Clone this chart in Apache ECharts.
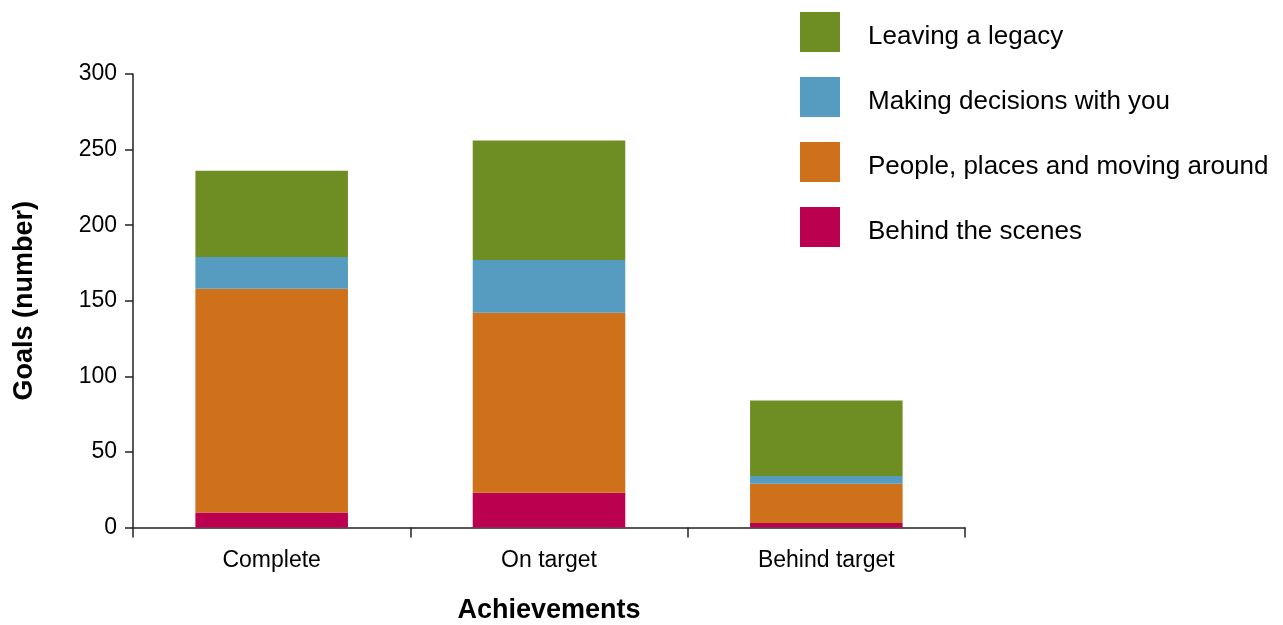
<!DOCTYPE html>
<html>
<head>
<meta charset="utf-8">
<script src="https://cdn.jsdelivr.net/npm/echarts@6/dist/echarts.min.js"></script>
<style>
html,body{margin:0;padding:0;background:#fff;overflow:hidden;}
#chart{width:1283px;height:625px;}
</style>
</head>
<body>
<div id="chart"></div>
<script>
const categories = ['Complete', 'On target', 'Behind target'];
const behindScenes = [10, 23, 3];
const peoplePlaces = [148, 119, 26];
const makingDecisions = [21, 35, 5];
const leavingLegacy = [57, 79, 50];
const yTicks = [0, 50, 100, 150, 200, 250, 300];

const FONT = '"Liberation Sans", Arial, sans-serif';
const chart = echarts.init(document.getElementById('chart'));

const mk = (name, data, color) => ({
  name, type: 'bar', stack: 'total', data, barWidth: '55%',
  itemStyle: { color }, emphasis: { disabled: true }
});

chart.setOption({
  animation: false,
  textStyle: { fontFamily: FONT },
  grid: { left: 133, width: 832, top: 74, height: 453.5, containLabel: false, outerBoundsMode: 'none' },
  legend: {
    orient: 'vertical', left: 800, top: 12, padding: 0,
    itemWidth: 40, itemHeight: 40, itemGap: 25,
    icon: 'rect',
    formatter: n => '{t|' + n + '}',
    textStyle: {
      fontFamily: FONT, fontSize: 26, color: '#000', padding: [0, 0, 0, 23],
      rich: { t: { fontFamily: FONT, fontSize: 26, color: '#000', padding: [10, 0, 0, 0] } }
    },
    data: ['Leaving a legacy', 'Making decisions with you', 'People, places and moving around', 'Behind the scenes']
  },
  xAxis: {
    type: 'category', data: categories,
    name: 'Achievements', nameLocation: 'middle', nameGap: 70,
    nameTextStyle: { fontFamily: FONT, fontSize: 27, fontWeight: 'bold', color: '#000' },
    axisLine: { lineStyle: { color: '#222', width: 1.5 } },
    axisTick: { show: true, length: 10, alignWithLabel: false, lineStyle: { color: '#222', width: 1.5 } },
    axisLabel: { fontFamily: FONT, fontSize: 23, color: '#000', margin: 22 }
  },
  yAxis: {
    type: 'value', min: 0, max: 300, interval: 50,
    name: 'Goals (number)', nameLocation: 'middle', nameGap: 95, nameRotate: 90,
    nameTextStyle: { fontFamily: FONT, fontSize: 27, fontWeight: 'bold', color: '#000' },
    axisLine: { show: true, lineStyle: { color: '#222', width: 1.5 } },
    axisTick: { show: true, length: 8, lineStyle: { color: '#222', width: 1.5 } },
    splitLine: { show: false },
    axisLabel: {
      fontFamily: FONT, fontSize: 23, color: '#000', margin: 16,
      formatter: v => yTicks.includes(v) ? String(v) : ''
    }
  },
  series: [
    mk('Behind the scenes', behindScenes, '#BA004E'),
    mk('People, places and moving around', peoplePlaces, '#CF701A'),
    mk('Making decisions with you', makingDecisions, '#569BC0'),
    mk('Leaving a legacy', leavingLegacy, '#6E8D22')
  ]
});
</script>
</body>
</html>
